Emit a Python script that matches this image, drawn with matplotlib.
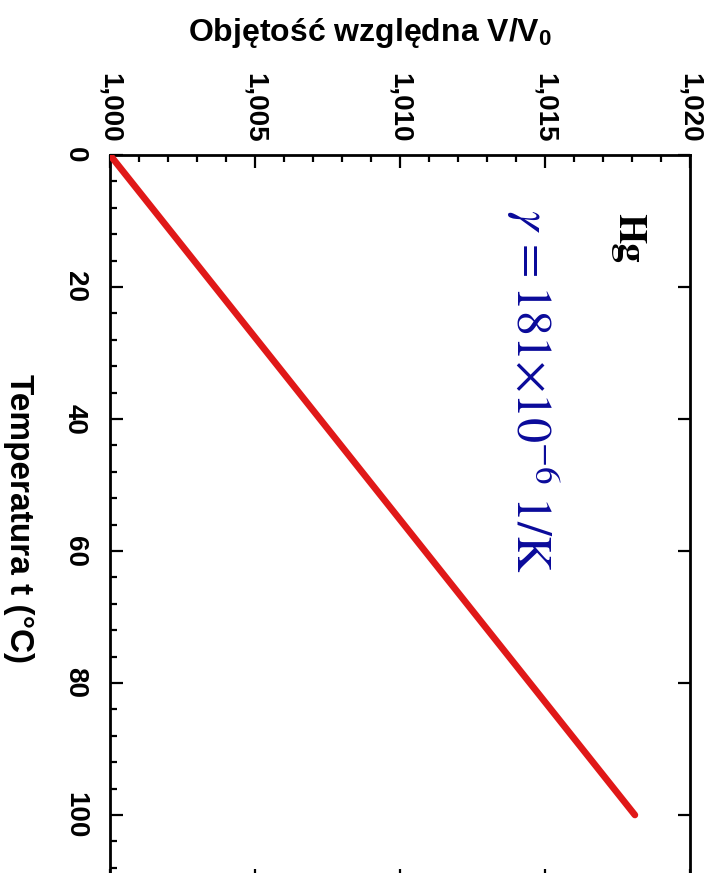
import matplotlib
matplotlib.use("Agg")
import matplotlib.pyplot as plt
from matplotlib.ticker import MultipleLocator, FuncFormatter

# data
temps = [0, 100]                 # Temperatura t (°C)
volumes = [1.000, 1.0181]        # V/V0
vol_ticks = [1.000, 1.005, 1.010, 1.015, 1.020]
temp_ticks = [0, 20, 40, 60, 80, 100]

plt.rcParams["font.family"] = ["Liberation Sans", "DejaVu Sans"]
plt.rcParams["mathtext.fontset"] = "stix"

W, H = 717, 873
fig = plt.figure(figsize=(W / 100, H / 100), dpi=100, facecolor="white")

# axes placed in pixel terms: left 110, right 690, top 155, bottom 881
ax = fig.add_axes([110 / W, 1 - 881 / H, 580 / W, 726 / H])

ax.plot(volumes, temps, color="#e01818", linewidth=4.8,
        solid_capstyle="round", zorder=3)

ax.set_xlim(1.000, 1.020)
ax.set_ylim(110, 0)

ax.xaxis.tick_top()
ax.set_xticks(vol_ticks)
ax.xaxis.set_minor_locator(MultipleLocator(0.001))
ax.set_yticks(temp_ticks)
ax.yaxis.set_minor_locator(MultipleLocator(4))
ax.xaxis.set_major_formatter(FuncFormatter(lambda v, _: f"{v:.3f}".replace(".", ",")))

ax.tick_params(which="both", direction="in", width=1.6, color="black")
ax.tick_params(which="major", length=9)
ax.tick_params(which="minor", length=5)
ax.tick_params(axis="x", which="major", top=True, bottom=True,
               labeltop=True, labelbottom=False, labelrotation=-90,
               labelsize=20, pad=9)
ax.tick_params(axis="x", which="minor", top=True, bottom=False)
ax.tick_params(axis="y", which="major", left=True, right=True,
               labelleft=True, labelrotation=-90, labelsize=20, pad=16)
ax.tick_params(axis="y", which="minor", left=True, right=False)
for lab in ax.get_xticklabels() + ax.get_yticklabels():
    lab.set_fontweight("bold")
for lab in ax.get_yticklabels():
    lab.set_verticalalignment("center")
for sp in ax.spines.values():
    sp.set_linewidth(2.0)

# axis titles (the chart is shown rotated by 90 degrees)
fig.text(370 / W, 1 - 33 / H, r"Objętość względna V/V$_{\mathregular{0}}$",
         ha="center", va="center", fontsize=23, fontweight="bold")
fig.text(18 / W, 1 - 518 / H, "Temperatura t (°C)", rotation=-90,
         ha="center", va="center", fontsize=24, fontweight="bold")

# annotations
fig.text(628 / W, 1 - 238 / H, "Hg", rotation=-90, ha="center", va="center",
         fontsize=28, fontweight="bold", family="STIXGeneral")
fig.text(532 / W, 1 - 391 / H, r"$\gamma\,=181{\times}10^{-6}\;\mathrm{1/K}$",
         rotation=-90, ha="center", va="center", fontsize=36,
         color="#0a0a9a")

fig.savefig("out.png", dpi=100, facecolor="white")
